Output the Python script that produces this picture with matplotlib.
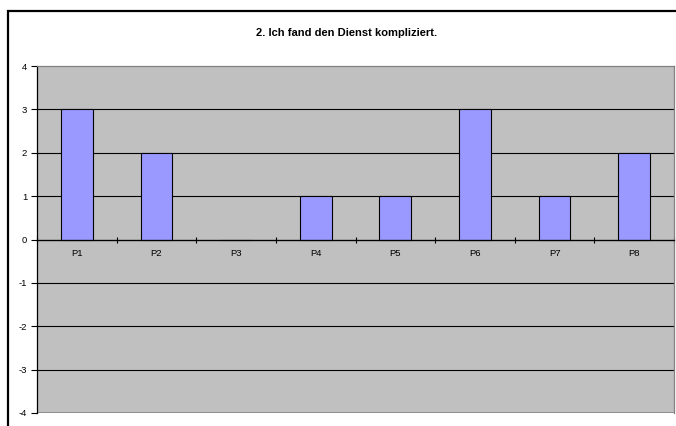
import numpy as np
import matplotlib.pyplot as plt
from matplotlib.patches import Rectangle

teilnehmer = ['P1', 'P2', 'P3', 'P4', 'P5', 'P6', 'P7', 'P8']
antworten = [3, 2, 0, 1, 1, 3, 1, 2]
y_ticks = [-4, -3, -2, -1, 0, 1, 2, 3, 4]

plt.rcParams['font.family'] = ['Liberation Sans', 'DejaVu Sans']
plt.rcParams['axes.unicode_minus'] = False

W, H = 676, 426
fig = plt.figure(figsize=(W / 100, H / 100), dpi=100)
fig.patch.set_facecolor('white')

# Rahmen um das Diagramm (rechts und unten abgeschnitten)
fig.patches.append(Rectangle((8 / W, -0.1), 1.0, (H - 11) / H + 0.1,
                             transform=fig.transFigure, fill=False,
                             edgecolor='black', linewidth=1.6, zorder=0))

ax = fig.add_axes([37 / W, (H - 413) / H, (674 - 37) / W, (413 - 66) / H])
ax.set_facecolor('#c0c0c0')

x = np.arange(len(teilnehmer))
ax.bar(x, antworten, width=0.4, color='#9999ff', edgecolor='black',
       linewidth=0.8, zorder=3)

ax.set_xlim(-0.5, len(teilnehmer) - 0.5)
ax.set_ylim(-4, 4)

# Gitterlinien
for yv in y_ticks[1:-1]:
    ax.axhline(yv, color='black', linewidth=0.8, zorder=1)

for s in ax.spines.values():
    s.set_color('#808080')
    s.set_linewidth(0.9)
ax.spines['left'].set_color('black')

ax.set_yticks(y_ticks)
ax.tick_params(axis='y', direction='out', length=4, width=0.8,
               labelsize=6.8, pad=3, colors='black')

# Kategorienachse bei y = 0
ax.set_xticks(x, teilnehmer)
ax.set_xticks(np.arange(len(teilnehmer) + 1) - 0.5, minor=True)
ax.tick_params(axis='x', which='major', length=0, labelsize=6.8, pad=7)
ax.tick_params(axis='x', which='minor', direction='inout', length=5, width=0.8)
ax.xaxis.set_ticks_position('bottom')
ax.spines['bottom'].set_position(('data', 0))
ax.spines['bottom'].set_color('black')
ax.spines['bottom'].set_zorder(4)

# unterer Rand der Zeichenfläche
ax.axhline(-4, color='#808080', linewidth=1.8, zorder=2)

fig.text(347 / W, 1 - 33 / H, '2. Ich fand den Dienst kompliziert.',
         ha='center', va='center', fontsize=8, fontweight='bold')

fig.savefig('out.png', dpi=100)
